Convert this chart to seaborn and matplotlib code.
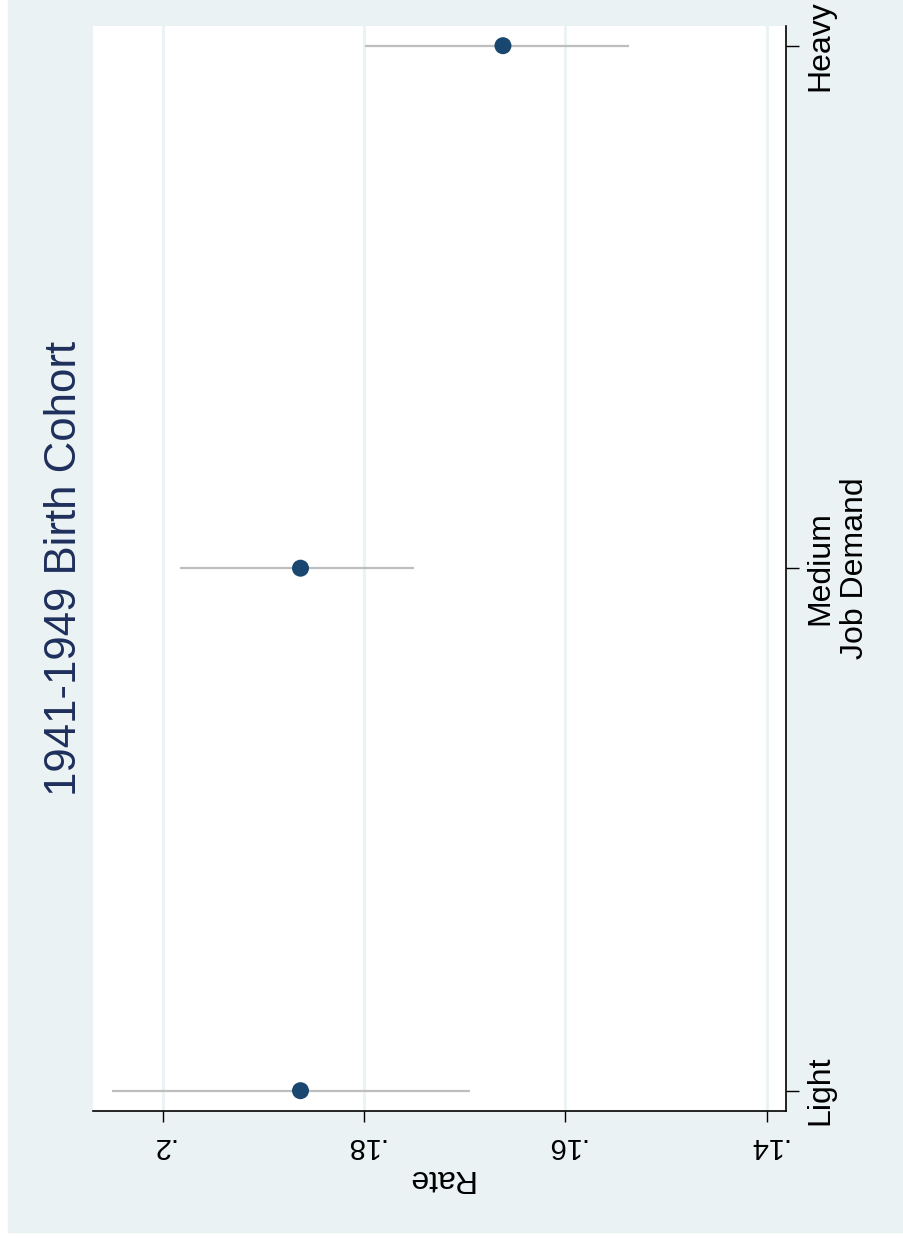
import pandas as pd
import matplotlib
matplotlib.use("Agg")
import matplotlib.pyplot as plt
import seaborn as sns

# Data
categories = ["Light", "Medium", "Heavy"]
rate = [0.1863, 0.1863, 0.1662]
ci_low = [0.1695, 0.1750, 0.1537]
ci_high = [0.2050, 0.1983, 0.1799]
rate_ticks = [0.14, 0.16, 0.18, 0.20]
rate_tick_labels = [".14", ".16", ".18", ".2"]
title = "1941-1949 Birth Cohort"

df = pd.DataFrame({"demand": categories, "rate": rate, "lo": ci_low, "hi": ci_high})
df["pos"] = range(len(df))

navy = "#1A476F"
title_navy = "#1E2F5C"
bg = "#EAF2F3"

sns.set_theme(style="white")
plt.rcParams["font.family"] = ["Liberation Sans", "DejaVu Sans"]

fig = plt.figure(figsize=(9.04, 12.38), dpi=100, facecolor="white")
fig.patches.append(plt.Rectangle((8 / 904, 6 / 1238), 1 - 8 / 904, 1 - 6 / 1238,
                                 transform=fig.transFigure, color=bg, zorder=-5))

# chart is drawn turned on its side: rate runs right-to-left, categories bottom-to-top
ax = fig.add_axes([93 / 904, (1238 - 1111) / 1238, (786 - 93) / 904, (1111 - 26) / 1238])
ax.set_zorder(2)
ax.set_facecolor("white")

ax.hlines(df["pos"], df["lo"], df["hi"], color="#BEBEBE", lw=1.6, zorder=2)
sns.scatterplot(data=df, x="rate", y="pos", ax=ax, s=150, color=navy,
                edgecolor="none", zorder=3, legend=False)

ax.set_xlim(0.2069, 0.1381)
ax.set_ylim(-0.0389, 2.0377)
ax.set_xticks(rate_ticks, rate_tick_labels, ha="center")
ax.set_yticks(df["pos"], categories, va="center")
ax.yaxis.tick_right()
ax.yaxis.set_label_position("right")

ax.grid(axis="x", color=bg, lw=2)
ax.grid(axis="y", visible=False)
ax.set_axisbelow(True)

for side in ["left", "top"]:
    ax.spines[side].set_visible(False)
for side in ["bottom", "right"]:
    ax.spines[side].set_color("black")
    ax.spines[side].set_linewidth(1.2)

ax.tick_params(axis="x", direction="out", length=8, width=1, pad=7, labelsize=21,
               labelrotation=180, bottom=True, color="black", labelcolor="black")
ax.tick_params(axis="y", direction="out", length=9, width=1, pad=5, labelsize=23,
               labelrotation=90, right=True, left=False, color="black", labelcolor="black")

ax.set_xlabel("Rate", fontsize=23, rotation=180, labelpad=2, color="black")
ax.xaxis.label.set_rotation_mode("default")
ax.set_ylabel("Job Demand", fontsize=23, rotation=90, labelpad=3, color="black")

fig.text(64.5 / 904, 1 - 568 / 1238, title, rotation=90, ha="center", va="center",
         fontsize=31.5, color=title_navy)

fig.savefig("out.png", dpi=100, facecolor=fig.get_facecolor())
